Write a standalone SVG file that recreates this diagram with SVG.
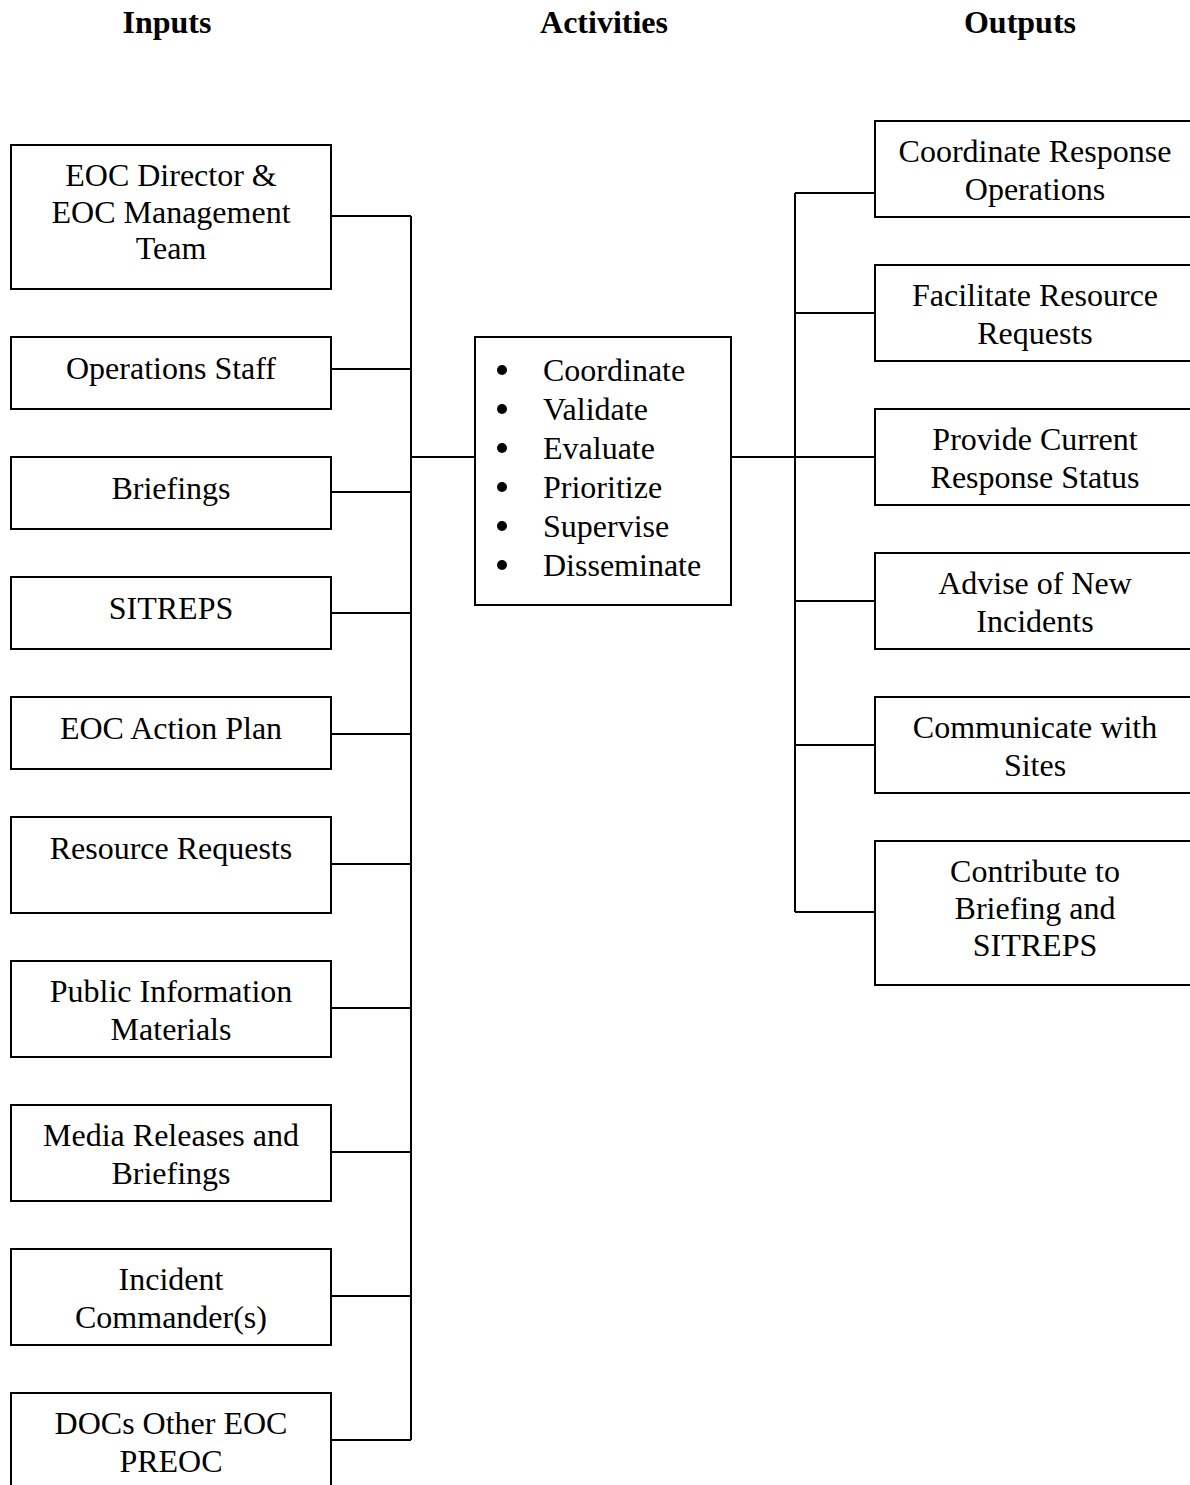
<svg xmlns="http://www.w3.org/2000/svg" width="1190" height="1485" viewBox="0 0 1190 1485">
<style>
.box{fill:#fff;stroke:#000;stroke-width:2}
.t{font-family:"Liberation Serif","Times New Roman",serif;font-size:32px;fill:#000;text-anchor:middle}
.l{font-family:"Liberation Serif","Times New Roman",serif;font-size:32px;fill:#000}
.h{font-family:"Liberation Serif","Times New Roman",serif;font-size:32px;font-weight:bold;fill:#000;text-anchor:middle}
.c{fill:none;stroke:#000;stroke-width:2}
</style>
<rect width="1190" height="1485" fill="#fff"/>
<g id="headers">
<text class="h" x="167" y="33">Inputs</text>
<text class="h" x="604" y="33">Activities</text>
<text class="h" x="1020" y="33">Outputs</text>
</g>
<g id="connectors">
<path class="c" d="M331 216H411M331 369H411M331 492H411M331 613H411M331 734H411M331 864H411M331 1008H411M331 1152H411M331 1296H411M331 1440H411M411 216V1440M411 457H475"/>
<path class="c" d="M731 457H795M795 193V912M795 193H875M795 313H875M795 457H875M795 601H875M795 745H875M795 912H875"/>
</g>
<g id="in1"><rect class="box" x="11" y="145" width="320" height="144"/><text class="t" x="171" y="186">EOC Director &amp;</text><text class="t" x="171" y="223">EOC Management</text><text class="t" x="171" y="259">Team</text></g>
<g id="in2"><rect class="box" x="11" y="337" width="320" height="72"/><text class="t" x="171" y="379">Operations Staff</text></g>
<g id="in3"><rect class="box" x="11" y="457" width="320" height="72"/><text class="t" x="171" y="499">Briefings</text></g>
<g id="in4"><rect class="box" x="11" y="577" width="320" height="72"/><text class="t" x="171" y="619">SITREPS</text></g>
<g id="in5"><rect class="box" x="11" y="697" width="320" height="72"/><text class="t" x="171" y="739">EOC Action Plan</text></g>
<g id="in6"><rect class="box" x="11" y="817" width="320" height="96"/><text class="t" x="171" y="859">Resource Requests</text></g>
<g id="in7"><rect class="box" x="11" y="961" width="320" height="96"/><text class="t" x="171" y="1002">Public Information</text><text class="t" x="171" y="1040">Materials</text></g>
<g id="in8"><rect class="box" x="11" y="1105" width="320" height="96"/><text class="t" x="171" y="1146">Media Releases and</text><text class="t" x="171" y="1184">Briefings</text></g>
<g id="in9"><rect class="box" x="11" y="1249" width="320" height="96"/><text class="t" x="171" y="1290">Incident</text><text class="t" x="171" y="1328">Commander(s)</text></g>
<g id="in10"><rect class="box" x="11" y="1393" width="320" height="110"/><text class="t" x="171" y="1434">DOCs Other EOC</text><text class="t" x="171" y="1472">PREOC</text></g>
<g id="activities"><rect class="box" x="475" y="337" width="256" height="268"/>
<g fill="#000"><circle cx="502" cy="370" r="5"/><circle cx="502" cy="409" r="5"/><circle cx="502" cy="448" r="5"/><circle cx="502" cy="487" r="5"/><circle cx="502" cy="526" r="5"/><circle cx="502" cy="565" r="5"/></g>
<text class="l" x="543" y="381">Coordinate</text><text class="l" x="543" y="420">Validate</text><text class="l" x="543" y="459">Evaluate</text><text class="l" x="543" y="498">Prioritize</text><text class="l" x="543" y="537">Supervise</text><text class="l" x="543" y="576">Disseminate</text>
</g>
<g id="out1"><rect class="box" x="875" y="121" width="330" height="96"/><text class="t" x="1035" y="162">Coordinate Response</text><text class="t" x="1035" y="200">Operations</text></g>
<g id="out2"><rect class="box" x="875" y="265" width="330" height="96"/><text class="t" x="1035" y="306">Facilitate Resource</text><text class="t" x="1035" y="344">Requests</text></g>
<g id="out3"><rect class="box" x="875" y="409" width="330" height="96"/><text class="t" x="1035" y="450">Provide Current</text><text class="t" x="1035" y="488">Response Status</text></g>
<g id="out4"><rect class="box" x="875" y="553" width="330" height="96"/><text class="t" x="1035" y="594">Advise of New</text><text class="t" x="1035" y="632">Incidents</text></g>
<g id="out5"><rect class="box" x="875" y="697" width="330" height="96"/><text class="t" x="1035" y="738">Communicate with</text><text class="t" x="1035" y="776">Sites</text></g>
<g id="out6"><rect class="box" x="875" y="841" width="330" height="144"/><text class="t" x="1035" y="882">Contribute to</text><text class="t" x="1035" y="919">Briefing and</text><text class="t" x="1035" y="956">SITREPS</text></g>
</svg>
